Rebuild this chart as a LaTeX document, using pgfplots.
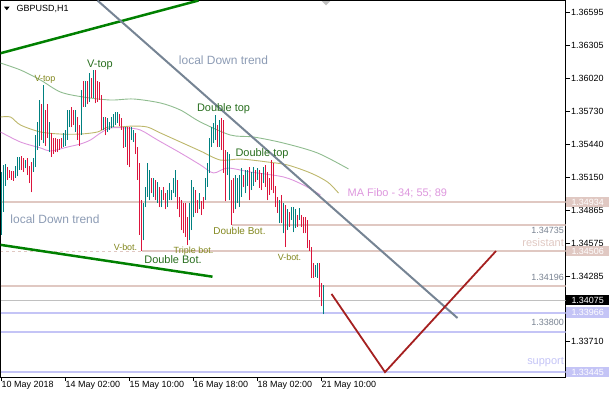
\documentclass[border=0pt]{standalone}
\usepackage{fontspec}
\setmainfont{Liberation Sans}
\usepackage{pgfplots}
\usepackage{pgfplotstable}
\pgfplotsset{compat=1.18}

\definecolor{resl}{RGB}{224,200,194}
\definecolor{supl}{RGB}{196,196,246}
\definecolor{curl}{RGB}{192,192,192}
\definecolor{trendgray}{RGB}{118,132,148}
\definecolor{chgreen}{RGB}{0,128,0}
\definecolor{maG}{RGB}{143,188,143}
\definecolor{maO}{RGB}{189,183,107}
\definecolor{maP}{RGB}{221,150,221}
\definecolor{zig}{RGB}{165,32,32}
\definecolor{ldt}{RGB}{140,155,180}
\definecolor{patbig}{RGB}{40,110,30}
\definecolor{patsmall}{RGB}{130,135,30}
\definecolor{lvl}{RGB}{120,130,145}
\definecolor{bullteal}{RGB}{0,128,128}
\definecolor{bearred}{RGB}{220,20,60}

% GBPUSD H1 candles: each bar is low, high, break
\pgfplotstableread{
k p
0 1.3465
0 1.3520
0 nan
1 1.3485
1 1.3526
1 nan
2 1.3508
2 1.3527
2 nan
7 1.3515
7 1.3525
7 nan
8 1.3516
8 1.3533
8 nan
9 1.3522
9 1.3533
9 nan
12 1.3523
12 1.3530
12 nan
16 1.3520
16 1.3532
16 nan
17 1.3524
17 1.3552
17 nan
18 1.3539
18 1.3564
18 nan
19 1.3543
19 1.3583
19 nan
21 1.3545
21 1.3596
21 nan
24 1.3537
24 1.3564
24 nan
31 1.3542
31 1.3554
31 nan
32 1.3543
32 1.3557
32 nan
33 1.3548
33 1.3574
33 nan
34 1.3559
34 1.3574
34 nan
37 1.3555
37 1.3574
37 nan
40 1.3552
40 1.3592
40 nan
42 1.3577
42 1.3600
42 nan
44 1.3581
44 1.3607
44 nan
46 1.3585
46 1.3609
46 nan
51 1.3557
51 1.3568
51 nan
53 1.3555
53 1.3567
53 nan
54 1.3557
54 1.3564
54 nan
55 1.3558
55 1.3568
55 nan
56 1.3559
56 1.3571
56 nan
57 1.3561
57 1.3572
57 nan
58 1.3563
58 1.3572
58 nan
62 1.3542
62 1.3559
62 nan
65 1.3548
65 1.3559
65 nan
66 1.3546
66 1.3557
66 nan
71 1.3460
71 1.3493
71 nan
72 1.3489
72 1.3507
72 nan
73 1.3498
73 1.3528
73 nan
74 1.3495
74 1.3522
74 nan
76 1.3498
76 1.3515
76 nan
78 1.3493
78 1.3511
78 nan
80 1.3489
80 1.3504
80 nan
83 1.3489
83 1.3504
83 nan
84 1.3495
84 1.3510
84 nan
85 1.3495
85 1.3504
85 nan
86 1.3501
86 1.3515
86 nan
87 1.3498
87 1.3522
87 nan
94 1.3460
94 1.3493
94 nan
95 1.3469
95 1.3513
95 nan
96 1.3480
96 1.3507
96 nan
99 1.3487
99 1.3501
99 nan
102 1.3495
102 1.3515
102 nan
103 1.3507
103 1.3528
103 nan
104 1.3519
104 1.3550
104 nan
105 1.3542
105 1.3559
105 nan
106 1.3545
106 1.3563
106 nan
107 1.3548
107 1.3570
107 nan
109 1.3542
109 1.3565
109 nan
113 1.3517
113 1.3537
113 nan
114 1.3495
114 1.3536
114 nan
117 1.3487
117 1.3517
117 nan
118 1.3493
118 1.3515
118 nan
119 1.3489
119 1.3517
119 nan
120 1.3498
120 1.3523
120 nan
122 1.3501
122 1.3522
122 nan
123 1.3508
123 1.3522
123 nan
125 1.3504
125 1.3520
125 nan
126 1.3508
126 1.3524
126 nan
128 1.3513
128 1.3523
128 nan
131 1.3510
131 1.3524
131 nan
139 1.3475
139 1.3495
139 nan
141 1.3466
141 1.3493
141 nan
143 1.3469
143 1.3487
143 nan
145 1.3478
145 1.3489
145 nan
146 1.3467
146 1.3489
146 nan
147 1.3471
147 1.3487
147 nan
149 1.3478
149 1.3488
149 nan
157 1.3428
157 1.3438
157 nan
158 1.3427
158 1.3440
158 nan
161 1.3395
161 1.3421
}\upbars

\pgfplotstableread{
k p
3 1.3513
3 1.3524
3 nan
4 1.3515
4 1.3522
4 nan
5 1.3513
5 1.3521
5 nan
6 1.3512
6 1.3521
6 nan
10 1.3522
10 1.3534
10 nan
11 1.3520
11 1.3532
11 nan
13 1.3517
13 1.3532
13 nan
14 1.3510
14 1.3525
14 nan
15 1.3502
15 1.3529
15 nan
20 1.3548
20 1.3579
20 nan
22 1.3543
22 1.3574
22 nan
23 1.3550
23 1.3579
23 nan
25 1.3533
25 1.3554
25 nan
26 1.3536
26 1.3550
26 nan
27 1.3537
27 1.3550
27 nan
28 1.3537
28 1.3549
28 nan
29 1.3539
29 1.3549
29 nan
30 1.3541
30 1.3550
30 nan
35 1.3559
35 1.3577
35 nan
36 1.3561
36 1.3574
36 nan
38 1.3548
38 1.3568
38 nan
39 1.3543
39 1.3561
39 nan
41 1.3577
41 1.3600
41 nan
43 1.3579
43 1.3600
43 nan
45 1.3585
45 1.3602
45 nan
47 1.3580
47 1.3609
47 nan
48 1.3581
48 1.3600
48 nan
49 1.3583
49 1.3599
49 nan
50 1.3557
50 1.3587
50 nan
52 1.3552
52 1.3568
52 nan
59 1.3560
59 1.3571
59 nan
60 1.3557
60 1.3567
60 nan
61 1.3541
61 1.3559
61 nan
63 1.3526
63 1.3559
63 nan
64 1.3524
64 1.3559
64 nan
67 1.3536
67 1.3554
67 nan
68 1.3513
68 1.3542
68 nan
69 1.3465
69 1.3528
69 nan
70 1.34506
70 1.3495
70 nan
75 1.3501
75 1.3515
75 nan
77 1.3495
77 1.3513
77 nan
79 1.3489
79 1.3507
79 nan
81 1.3495
81 1.3507
81 nan
82 1.3487
82 1.3501
82 nan
88 1.3487
88 1.3513
88 nan
89 1.3480
89 1.3498
89 nan
90 1.3469
90 1.3495
90 nan
91 1.3466
91 1.3493
91 nan
92 1.3463
92 1.3493
92 nan
93 1.3456
93 1.3480
93 nan
97 1.3484
97 1.3504
97 nan
98 1.3484
98 1.3495
98 nan
100 1.3482
100 1.3494
100 nan
101 1.3487
101 1.3498
101 nan
108 1.3542
108 1.3561
108 nan
110 1.3539
110 1.3567
110 nan
111 1.3519
111 1.3565
111 nan
112 1.3494
112 1.3539
112 nan
115 1.34735
115 1.3513
115 nan
116 1.3484
116 1.3515
116 nan
121 1.3507
121 1.3517
121 nan
124 1.3495
124 1.3524
124 nan
127 1.3511
127 1.3522
127 nan
129 1.3506
129 1.3522
129 nan
130 1.3504
130 1.3519
130 nan
132 1.3507
132 1.3526
132 nan
133 1.3495
133 1.3520
133 nan
134 1.3500
134 1.3515
134 nan
135 1.3504
135 1.3530
135 nan
136 1.3501
136 1.3528
136 nan
137 1.3489
137 1.3508
137 nan
138 1.3484
138 1.3498
138 nan
140 1.3475
140 1.3500
140 nan
142 1.3454
142 1.3491
142 nan
144 1.3472
144 1.3485
144 nan
148 1.3472
148 1.3482
148 nan
150 1.3472
150 1.3482
150 nan
151 1.3466
151 1.3480
151 nan
152 1.3466
152 1.3480
152 nan
153 1.3453
153 1.3478
153 nan
154 1.3451
154 1.3460
154 nan
155 1.3427
155 1.3454
155 nan
156 1.3427
156 1.3440
156 nan
159 1.3410
159 1.3440
159 nan
160 1.3402
160 1.3423
}\dnbars

\begin{document}
\begin{tikzpicture}[x=1bp,y=1bp]
\begin{axis}[
  at={(0.5bp,-0.5bp)}, anchor=north west,
  scale only axis, width=565bp, height=376.5bp,
  xmin=-0.5, xmax=282.0, ymin=1.33402, ymax=1.36701,
  clip mode=individual,
  axis line style={black, line width=1bp},
  tick style={black, line width=0.8bp},
  tick align=outside, major tick length=4bp,
  xtick pos=bottom, ytick pos=right, yticklabel pos=right,
  xtick={0,32,64,96,128,160},
  xticklabels={10 May 2018,14 May 02:00,15 May 10:00,16 May 18:00,18 May 02:00,21 May 10:00},
  ytick={1.36595,1.36305,1.36020,1.35730,1.35440,1.35150,1.34865,1.34575,1.34285,1.33995,1.33710,1.33425},
  yticklabels={1.36595,1.36305,1.36020,1.35730,1.35440,1.35150,1.34865,1.34575,1.34285,{},1.33710,{}},
  tick label style={font=\fontsize{9}{10}\selectfont, inner sep=0pt},
  xticklabel style={anchor=north west},
  yticklabel style={anchor=west, xshift=1.5bp},
  /pgf/number format/assume math mode=true,
]
% price levels
\addplot[resl, line width=2bp] coordinates {(-0.5,1.34934) (282,1.34934)};
\addplot[resl, line width=2bp] coordinates {(115,1.34735) (282,1.34735)};
\addplot[resl, line width=1bp, dashed] coordinates {(-0.5,1.34506) (70,1.34506)};
\addplot[resl, line width=2bp] coordinates {(70,1.34506) (282,1.34506)};
\addplot[resl, line width=2bp] coordinates {(-0.5,1.34196) (282,1.34196)};
\addplot[curl, line width=1bp] coordinates {(-0.5,1.34075) (282,1.34075)};
\addplot[supl, line width=2bp] coordinates {(-0.5,1.33966) (282,1.33966)};
\addplot[supl, line width=2bp] coordinates {(-0.5,1.33800) (282,1.33800)};
\addplot[supl, line width=2bp] coordinates {(-0.5,1.33445) (282,1.33445)};

% moving averages 34, 55, 89
\addplot[maG, line width=0.9bp, smooth, tension=0.5] coordinates {
(-0.5,1.36153) (9.5,1.36092) (19.5,1.36004) (29.5,1.35899) (41,1.35855)
(54.5,1.35829) (66,1.35838) (79.5,1.35803) (89.5,1.35741) (99.5,1.35636)
(114.5,1.35522) (126,1.35505) (141,1.35452) (158,1.35365) (173.5,1.35225)};
\addplot[maO, line width=0.9bp, smooth, tension=0.5] coordinates {
(-0.5,1.35680) (4.5,1.35680) (9.5,1.35610) (19.5,1.35549) (29.5,1.35531)
(39.5,1.35531) (48,1.35549) (53,1.35592) (58,1.35592) (66,1.35601)
(73,1.35592) (79.5,1.35540) (89.5,1.35461) (99.5,1.35382) (109.5,1.35303)
(119.5,1.35312) (133,1.35286) (143,1.35260) (154.5,1.35190) (163,1.35111) (168.5,1.35014)};
\addplot[maP, line width=0.9bp, smooth, tension=0.5] coordinates {
(-0.5,1.35549) (9.5,1.35461) (19.5,1.35409) (24.5,1.35382) (33,1.35417)
(39.5,1.35444) (44.5,1.35479) (49.5,1.35540) (54.5,1.35584) (63,1.35584)
(69.5,1.35566) (78,1.35479) (89.5,1.35365) (99.5,1.35260) (106,1.35190)
(113,1.35233) (124.5,1.35198) (141,1.35155) (151,1.35084) (159.5,1.34997)};

% candles (rising teal, falling crimson)
\addplot[draw=bullteal, color=bullteal, solid, line width=1bp, mark=none, unbounded coords=jump]
  table[x=k, y=p] {\upbars};
\addplot[draw=bearred, color=bearred, solid, line width=1bp, mark=none, unbounded coords=jump]
  table[x=k, y=p] {\dnbars};

% trend lines
\addplot[chgreen, line width=2.5bp] coordinates {(-0.5,1.36239) (98.5,1.36701)};
\addplot[chgreen, line width=2.5bp] coordinates {(-0.5,1.34560) (105.5,1.34281)};
\addplot[trendgray, line width=2bp] coordinates {(48,1.36701) (228,1.33919)};
\addplot[zig, line width=1.8bp] coordinates {(165,1.34130) (191.75,1.33445) (247.25,1.34506)};

% annotations
\node[ldt, font=\fontsize{12}{14}\selectfont] at (axis cs:111,1.36179) {local Down trend};
\node[ldt, font=\fontsize{12}{14}\selectfont] at (axis cs:26.75,1.34787) {local Down trend};
\node[patsmall, font=\fontsize{9}{10}\selectfont] at (axis cs:21.75,1.36013) {V-top};
\node[patbig, font=\fontsize{11}{12}\selectfont] at (axis cs:49.25,1.36136) {V-top};
\node[patbig, font=\fontsize{11}{12}\selectfont] at (axis cs:111,1.35750) {Double top};
\node[patbig, font=\fontsize{11}{12}\selectfont] at (axis cs:130.25,1.35356) {Double top};
\node[patsmall, font=\fontsize{9}{10}\selectfont] at (axis cs:62,1.34541) {V-bot.};
\node[patsmall, font=\fontsize{9}{10}\selectfont] at (axis cs:96,1.34506) {Triple bot.};
\node[patbig, font=\fontsize{11}{12}\selectfont] at (axis cs:85.75,1.34427) {Double Bot.};
\node[patsmall, font=\fontsize{10}{11}\selectfont] at (axis cs:119,1.34681) {Double Bot.};
\node[patsmall, font=\fontsize{9}{10}\selectfont] at (axis cs:144,1.34454) {V-bot.};
\node[maP, font=\fontsize{11}{12}\selectfont, anchor=west, inner sep=0pt] at (axis cs:173,1.35014) {MA Fibo - 34; 55; 89};

\node[lvl, font=\fontsize{9}{10}\selectfont, anchor=east, inner sep=0pt] at (axis cs:281.25,1.34690) {1.34735};
\node[resl, font=\fontsize{11}{12}\selectfont, anchor=east, inner sep=0pt] at (axis cs:281.25,1.34576) {resistant};
\node[lvl, font=\fontsize{9}{10}\selectfont, anchor=east, inner sep=0pt] at (axis cs:281.25,1.34272) {1.34196};
\node[lvl, font=\fontsize{9}{10}\selectfont, anchor=east, inner sep=0pt] at (axis cs:281.25,1.33878) {1.33800};
\node[supl, font=\fontsize{11}{12}\selectfont, anchor=east, inner sep=0pt] at (axis cs:281.25,1.33534) {support};

% price tags on the scale
\foreach \p/\c/\t in {1.34934/resl/white, 1.34506/resl/white, 1.34075/black/white, 1.33966/supl/white, 1.33445/supl/white}{
  \edef\tmp{\noexpand\node[fill=\c, text=\t, anchor=west, minimum width=43bp, minimum height=10.5bp, inner sep=0pt, font=\noexpand\fontsize{9}{10}\noexpand\selectfont, xshift=0.5bp] at (axis cs:282,\p) {\p};}
  \tmp
}
\end{axis}

% symbol header and shift marker
\fill[black] (4,-6.7) -- (9.6,-6.7) -- (6.8,-10.2) -- cycle;
\node[anchor=west, inner sep=0pt, font=\fontsize{9}{10}\selectfont] at (16.5,-8.5) {GBPUSD,H1};
\fill[curl] (321.7,-1) -- (330.3,-1) -- (326,-5.5) -- cycle;

\pgfresetboundingbox
\useasboundingbox (0,0) rectangle (609,-400);
\end{tikzpicture}
\end{document}
